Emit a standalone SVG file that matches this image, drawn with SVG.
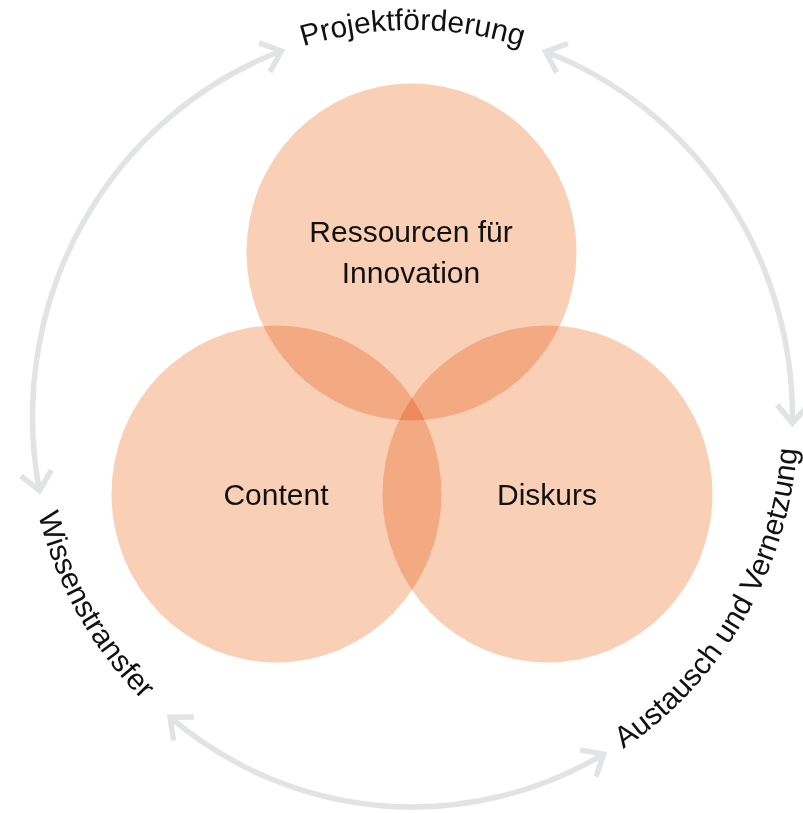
<svg xmlns="http://www.w3.org/2000/svg" width="803" height="813" viewBox="0 0 803 813">
<defs>
<style>
.c{fill:#F9D0B6;mix-blend-mode:multiply}
.t{font-family:"Liberation Sans",Arial,sans-serif;font-size:30px;fill:#111;text-anchor:middle}
.arc{fill:none;stroke:#E2E3E5;stroke-width:5.5;marker-start:url(#ah);marker-end:url(#ah)}
</style>
<marker id="ah" markerUnits="userSpaceOnUse" viewBox="-25 -20 30 40" refX="0" refY="0" markerWidth="30" markerHeight="40" orient="auto-start-reverse" overflow="visible">
<path d="M-18,-15.5 L0,0 L-18,15.5" fill="none" stroke="#E2E3E5" stroke-width="5.5" stroke-linejoin="miter"/>
</marker>
<path id="p-top" d="M85.1,223.5 A378,387 0 0 1 739.9,223.5"/>
<path id="p-left" d="M77.0,221.1 A386,396 0 0 0 414.9,813.0"/>
<path id="p-right" d="M404.8,812.9 A386,396 0 0 0 750.6,225.9"/>
</defs>
<rect width="803" height="813" fill="#fff"/>
<g id="connectors">
<path class="arc" d="M39.4,490.7 A380,390 0 0 1 281.3,51.0"/>
<path class="arc" d="M545.6,51.7 A380,390 0 0 1 792.45,423.1"/>
<path class="arc" d="M603.6,754.1 A380,390 0 0 1 170.0,717.2"/>
</g>
<g id="node-ressourcen">
<ellipse class="c" cx="411.5" cy="252" rx="165" ry="168.5"/>
<text class="t" x="411" y="242">Ressourcen für</text>
<text class="t" x="411" y="283">Innovation</text>
</g>
<g id="node-content">
<ellipse class="c" cx="276.5" cy="494" rx="165" ry="168.5"/>
<text class="t" x="276" y="505">Content</text>
</g>
<g id="node-diskurs">
<ellipse class="c" cx="547.5" cy="494" rx="165" ry="168.5"/>
<text class="t" x="547" y="505">Diskurs</text>
</g>
<g id="label-projektfoerderung">
<text class="t"><textPath href="#p-top" startOffset="50%">Projektförderung</textPath></text>
</g>
<g id="label-wissenstransfer">
<text class="t"><textPath href="#p-left" startOffset="50%">Wissenstransfer</textPath></text>
</g>
<g id="label-austausch">
<text class="t"><textPath href="#p-right" startOffset="50%">Austausch und Vernetzung</textPath></text>
</g>
</svg>
